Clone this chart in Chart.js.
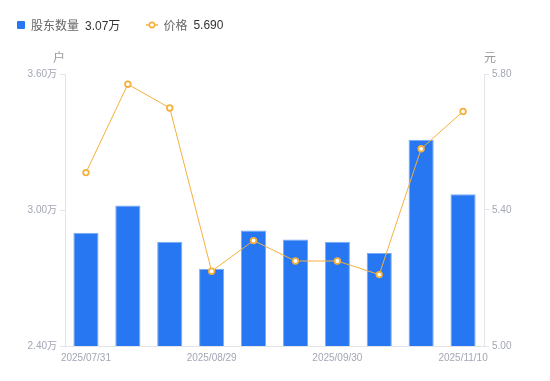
<!DOCTYPE html>
<html><head><meta charset="utf-8">
<script src="https://cdn.jsdelivr.net/npm/chart.js@4/dist/chart.umd.min.js"></script>
<style>
html,body{margin:0;padding:0;background:#fff;}
#wrap{position:relative;width:550px;height:381px;}
#legend{position:absolute;left:17px;top:16px;font:12px "Liberation Sans","Noto Sans CJK SC",sans-serif;color:#666;display:flex;align-items:center;white-space:nowrap;}
.item{display:flex;align-items:center;margin-right:26px;}
.sq{width:8px;height:8px;background:#2777f2;border-radius:1px;margin-right:6px;}
.val{color:#333;margin-left:6px;}
canvas{position:absolute;left:0;top:0;}
</style></head>
<body><div id="wrap">
<canvas id="c" width="550" height="381"></canvas>
<div id="legend">
 <div class="item"><span class="sq"></span><span>股东数量</span><span class="val">3.07万</span></div>
 <div class="item"><svg width="12" height="8" style="margin-right:5px"><line x1="0" y1="4" x2="12" y2="4" stroke="#f5b03c" stroke-width="1.5"/><circle cx="6" cy="4" r="2.6" fill="#fff" stroke="#f5b03c" stroke-width="1.6"/></svg><span>价格</span><span class="val">5.690</span></div>
</div>
</div>
<script>
const categories = ['2025/07/31','','','2025/08/29','','','2025/09/30','','','2025/11/10'];
const holders = [2.90, 3.02, 2.86, 2.74, 2.91, 2.87, 2.86, 2.81, 3.31, 3.07];
const prices = [5.51, 5.77, 5.70, 5.22, 5.31, 5.25, 5.25, 5.21, 5.58, 5.69];
const leftTicks = [2.40, 3.00, 3.60];
const rightTicks = [5.00, 5.40, 5.80];

const tickColor = '#a3a6b4';
const axisColor = '#e3e4e8';
const tickFont = {family:'"Liberation Sans","Noto Sans CJK SC",sans-serif', size:10};

const titles = {
  id:'titles',
  afterDraw(chart){
    const ctx = chart.ctx;
    ctx.save();
    ctx.font = '12px "Noto Sans CJK SC",sans-serif';
    ctx.fillStyle = '#999';
    ctx.textAlign = 'center';
    ctx.textBaseline = 'middle';
    ctx.fillText('户', chart.scales.y.right - 6, 57);
    ctx.fillText('元', chart.scales.y1.left + 6, 57);
    ctx.restore();
  }
};

new Chart(document.getElementById('c'), {
  data:{
    labels: categories,
    datasets:[
      {type:'line', label:'价格', data:prices, yAxisID:'y1', borderColor:'#f5b03c', borderWidth:1,
       pointRadius:2.8, pointBorderWidth:1.8, pointBackgroundColor:'#fff', pointBorderColor:'#f5b03c', tension:0, order:0},
      {type:'bar', label:'股东数量', data:holders, yAxisID:'y', backgroundColor:'#2777f2',
       borderColor:'#7aa9f5', borderWidth:{top:1,left:1,right:1,bottom:0}, borderSkipped:'bottom',
       barPercentage:0.6, categoryPercentage:1, order:1}
    ]
  },
  options:{
    responsive:false, animation:false,
    layout:{padding:{top:74,left:0,right:0,bottom:0}},
    plugins:{legend:{display:false}, tooltip:{enabled:false}},
    scales:{
      x:{
        grid:{display:false, drawTicks:false},
        border:{display:true, color:axisColor},
        ticks:{autoSkip:false, maxRotation:0, color:tickColor, font:tickFont, padding:6,
               callback:function(v,i){return categories[i];}},
        afterFit(s){ s.height = 35; }
      },
      y:{
        position:'left', min:2.40, max:3.60,
        afterBuildTicks(s){ s.ticks = leftTicks.map(v=>({value:v})); },
        grid:{drawOnChartArea:false, drawTicks:true, tickLength:5, color:axisColor},
        border:{display:true, color:axisColor},
        ticks:{color:tickColor, font:tickFont, padding:3, callback:v=>v.toFixed(2)+'万'},
        afterFit(s){ s.width = 65; }
      },
      y1:{
        position:'right', min:5.00, max:5.80,
        afterBuildTicks(s){ s.ticks = rightTicks.map(v=>({value:v})); },
        grid:{drawOnChartArea:false, drawTicks:true, tickLength:5, color:axisColor},
        border:{display:true, color:axisColor},
        ticks:{color:tickColor, font:tickFont, padding:3, callback:v=>v.toFixed(2)},
        afterFit(s){ s.width = 66; }
      }
    }
  },
  plugins:[titles]
});
</script>
</body></html>
